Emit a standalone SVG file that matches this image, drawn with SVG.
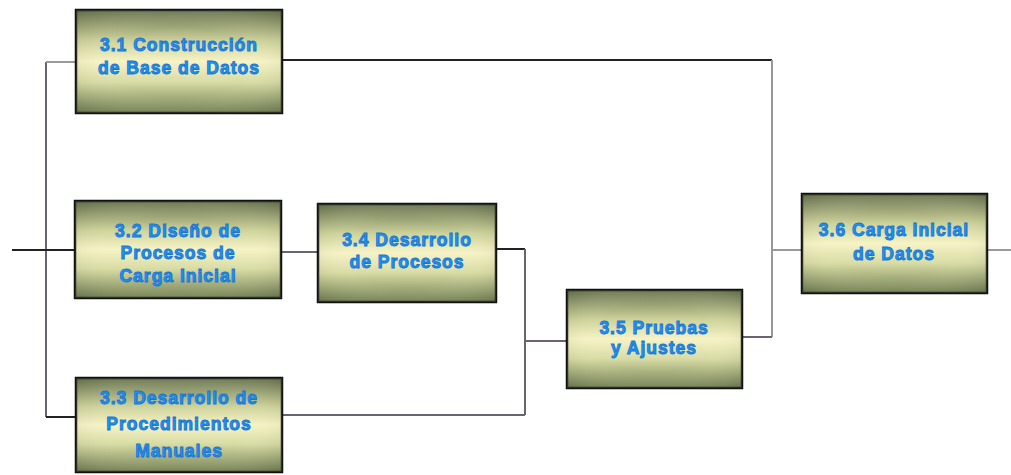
<svg xmlns="http://www.w3.org/2000/svg" width="1011" height="475" viewBox="0 0 1011 475">
<defs>
<linearGradient id="g" x1="0" y1="0" x2="0" y2="1">
<stop offset="0" stop-color="#66714f"/>
<stop offset="0.3" stop-color="#cdd29a"/>
<stop offset="0.5" stop-color="#f6f3c6"/>
<stop offset="0.7" stop-color="#d8dca4"/>
<stop offset="1" stop-color="#6f7d52"/>
</linearGradient>
<radialGradient id="r" cx="0.5" cy="0.5" r="0.7">
<stop offset="0.5" stop-color="#f7f3c4" stop-opacity="0"/>
<stop offset="1" stop-color="#55603f" stop-opacity="0.35"/>
</radialGradient>
</defs>
<style>
.box{fill:url(#g);stroke:#111;stroke-width:2.5}
.ov{fill:url(#r);stroke:none}
.t{font-family:"Liberation Sans",Arial,sans-serif;font-weight:bold;font-size:17.5px;letter-spacing:1px;fill:#1a96f2;stroke:#1a74d4;stroke-width:0.9;text-anchor:middle}
.dk{stroke:#222;stroke-width:2;fill:none}
.gr{stroke:#999;stroke-width:2;fill:none}
.md{stroke:#6a6470;stroke-width:2;fill:none}
</style>
<rect width="1011" height="475" fill="#fff"/>
<g id="connectors">
<path class="md" d="M46 62 V417"/>
<path class="gr" d="M46 62 H76"/>
<path class="dk" d="M12 250 H75"/>
<path class="dk" d="M46 417 H76"/>
<path class="dk" d="M282 60 H772"/>
<path class="gr" d="M772 60 V337"/>
<path class="gr" d="M772 250 H802"/>
<path class="md" d="M742 337 H772"/>
<path class="gr" d="M987 250 H1011"/>
<path class="md" d="M281 252 H318"/>
<path class="dk" d="M496 249 H525"/>
<path class="md" d="M525 249 V415"/>
<path class="md" d="M525 341 H567"/>
<path class="md" d="M282 415 H525"/>
</g>
<g id="n31">
<rect class="box" x="76" y="10" width="206" height="103"/>
<rect class="ov" x="76" y="10" width="206" height="103"/>
<text class="t" x="179" y="51">3.1 Construcción</text>
<text class="t" x="179" y="74">de Base de Datos</text>
</g>
<g id="n32">
<rect class="box" x="75" y="201" width="206" height="97"/>
<rect class="ov" x="75" y="201" width="206" height="97"/>
<text class="t" x="178" y="237">3.2 Diseño de</text>
<text class="t" x="178" y="259">Procesos de</text>
<text class="t" x="178" y="282">Carga Inicial</text>
</g>
<g id="n34">
<rect class="box" x="318" y="204" width="178" height="98"/>
<rect class="ov" x="318" y="204" width="178" height="98"/>
<text class="t" x="407" y="246">3.4 Desarrollo</text>
<text class="t" x="407" y="268">de Procesos</text>
</g>
<g id="n33">
<rect class="box" x="76" y="378" width="206" height="94"/>
<rect class="ov" x="76" y="378" width="206" height="94"/>
<text class="t" x="179" y="404">3.3 Desarrollo de</text>
<text class="t" x="179" y="430">Procedimientos</text>
<text class="t" x="179" y="457">Manuales</text>
</g>
<g id="n35">
<rect class="box" x="567" y="290" width="175" height="98"/>
<rect class="ov" x="567" y="290" width="175" height="98"/>
<text class="t" x="654" y="334">3.5 Pruebas</text>
<text class="t" x="654" y="354">y Ajustes</text>
</g>
<g id="n36">
<rect class="box" x="802" y="194" width="185" height="99"/>
<rect class="ov" x="802" y="194" width="185" height="99"/>
<text class="t" x="894" y="236">3.6 Carga Inicial</text>
<text class="t" x="894" y="260">de Datos</text>
</g>
</svg>
